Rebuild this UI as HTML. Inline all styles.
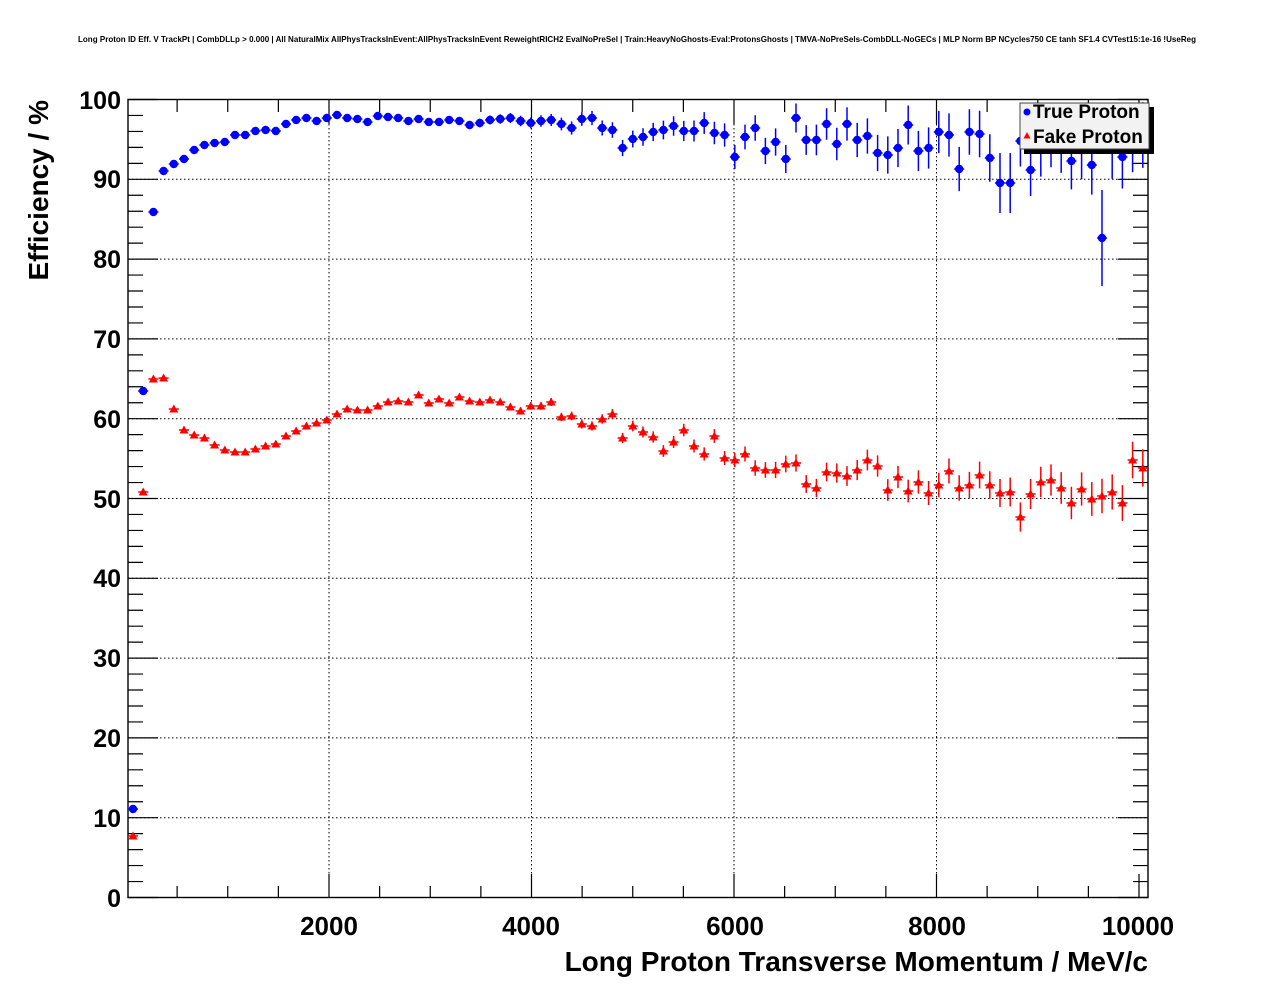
<!DOCTYPE html>
<html><head><meta charset="utf-8"><style>
html,body{margin:0;padding:0;background:#fff;}
svg{display:block;font-family:"Liberation Sans",sans-serif;}
</style></head><body>
<svg id="s" width="1276" height="996" viewBox="0 0 1276 996" xmlns="http://www.w3.org/2000/svg">
<rect width="1276" height="996" fill="#fff"/>
<text x="637" y="42" font-size="8.5" font-weight="bold" text-anchor="middle" textLength="1118" lengthAdjust="spacingAndGlyphs">Long Proton ID Eff. V TrackPt | CombDLLp &gt; 0.000 | All NaturalMix AllPhysTracksInEvent:AllPhysTracksInEvent ReweightRICH2 EvalNoPreSel | Train:HeavyNoGhosts-Eval:ProtonsGhosts | TMVA-NoPreSels-CombDLL-NoGECs | MLP Norm BP NCycles750 CE tanh SF1.4 CVTest15:1e-16 !UseReg</text>
<g id="grid" stroke="#000" stroke-width="1" stroke-dasharray="1.5,2.5" fill="none"></g>
<g id="ticks" stroke="#000" stroke-width="1.2" fill="none"></g>
<rect x="128" y="99.5" width="1020" height="798" fill="none" stroke="#000" stroke-width="1.4"/>
<g id="data"></g>
<g font-size="25" font-weight="bold" text-anchor="end">
<text x="121" y="907">0</text><text x="121" y="827">10</text><text x="121" y="747">20</text><text x="121" y="667">30</text><text x="121" y="587">40</text><text x="121" y="508">50</text><text x="121" y="428">60</text><text x="121" y="348">70</text><text x="121" y="268">80</text><text x="121" y="188">90</text><text x="121" y="109">100</text>
</g>
<g font-size="26" font-weight="bold" text-anchor="middle">
<text x="329" y="935">2000</text><text x="531" y="935">4000</text><text x="735" y="935">6000</text><text x="937" y="935">8000</text><text x="1138" y="935">10000</text>
</g>
<text x="1148" y="971" font-size="28" font-weight="bold" text-anchor="end">Long Proton Transverse Momentum / MeV/c</text>
<text transform="translate(48,100) rotate(-90)" font-size="28" font-weight="bold" text-anchor="end">Efficiency / %</text>
<rect x="1024" y="107" width="130" height="47" fill="#000"/>
<rect x="1020" y="103" width="129" height="46" fill="#f2f2f2" stroke="#444" stroke-width="1"/>
<circle cx="1027" cy="112" r="3.5" fill="#0000ff"/>
<path d="M1027,132 L1030.5,138.5 L1023.5,138.5 Z" fill="#ff0000"/>
<text x="1033" y="118" font-size="19" font-weight="bold">True Proton</text>
<text x="1033" y="143" font-size="19" font-weight="bold">Fake Proton</text>
</svg>
<script>
var NS="http://www.w3.org/2000/svg";
function el(n,a,p){var e=document.createElementNS(NS,n);for(var k in a)e.setAttribute(k,a[k]);p.appendChild(e);return e;}
var grid=document.getElementById('grid'),ticks=document.getElementById('ticks'),data=document.getElementById('data');
function X(v){return 126.5+v*0.10125;}
function Y(v){return 897.5-v*7.98;}
var g="";
for(var v=10;v<100;v+=10){var y=Y(v);g+="M128,"+y+"H1148";}
[2000,4000,6000,8000].forEach(function(v){var x=X(v);g+="M"+x+",100V898";});
el('path',{d:g},grid);
var t="";
for(var v=0;v<=100;v+=2){var y=Y(v);var L=(v%10==0)?30:15;t+="M128,"+y+"h"+L+"M1148,"+y+"h-"+L;}
for(var v=500;v<=10000;v+=500){var x=X(v);var L=(v%2000==0)?24:12;t+="M"+x+",898v-"+L+"M"+x+",100v"+L;}
el('path',{d:t},ticks);
var B=[809,391,212,171,164,159,150,145,143,142,135,135,131,130,131,124,120,118,121,118,115,118,119,122,116,117,118,121,119,122,122,120,121,125,123,120,119,118,121,123,121,120,124,128,119,118,128,130,148,139,137,132,130,126,131,131,123,133,135,157,137,128,151,142,159,118,140,140,124,144,124,140,136,153,155,148,125,151,148,132,135,169,132,134,158,183,183,141,170,150,140,145,161,150,165,238,148,157,140,135];
var R=[836,492,379,378,409,430,435,438,445,450,452,452,449,446,444,436,431,426,423,420,414,409,410,410,406,402,401,402,395,403,399,403,397,401,402,400,402,407,411,406,406,402,417,416,424,426,419,414,438,426,432,437,451,442,430,446,454,436,458,460,454,468,470,470,464,463,484,488,472,473,476,470,460,466,490,477,491,482,493,485,471,488,485,475,485,493,492,517,494,482,480,488,503,489,499,496,492,503,460,468];
var pb="",pr="";
for(var i=0;i<100;i++){
 var x=133+10.2*i;
 var eb=0.5+0.0033*i*i; if(i==95)eb=48; if(i==85||i==86)eb=30;
 var er=1+0.0018*i*i;
 pb+="M"+(x-5)+","+B[i]+"h10M"+x+","+(B[i]-eb)+"V"+(B[i]+eb);
 pr+="M"+(x-5)+","+R[i]+"h10M"+x+","+(R[i]-er)+"V"+(R[i]+er);
}
el('path',{d:pb,stroke:"#0000ff","stroke-width":1.5,fill:"none"},data);
el('path',{d:pr,stroke:"#ff0000","stroke-width":1.5,fill:"none"},data);
for(var i=0;i<100;i++){
 var x=133+10.2*i;
 el('circle',{cx:x,cy:B[i],r:4.2,fill:"#0000ff"},data);
 el('path',{d:"M"+x+","+(R[i]-4.5)+"L"+(x+4.5)+","+(R[i]+3.5)+"L"+(x-4.5)+","+(R[i]+3.5)+"Z",fill:"#ff0000"},data);
}
</script>
</body></html>
